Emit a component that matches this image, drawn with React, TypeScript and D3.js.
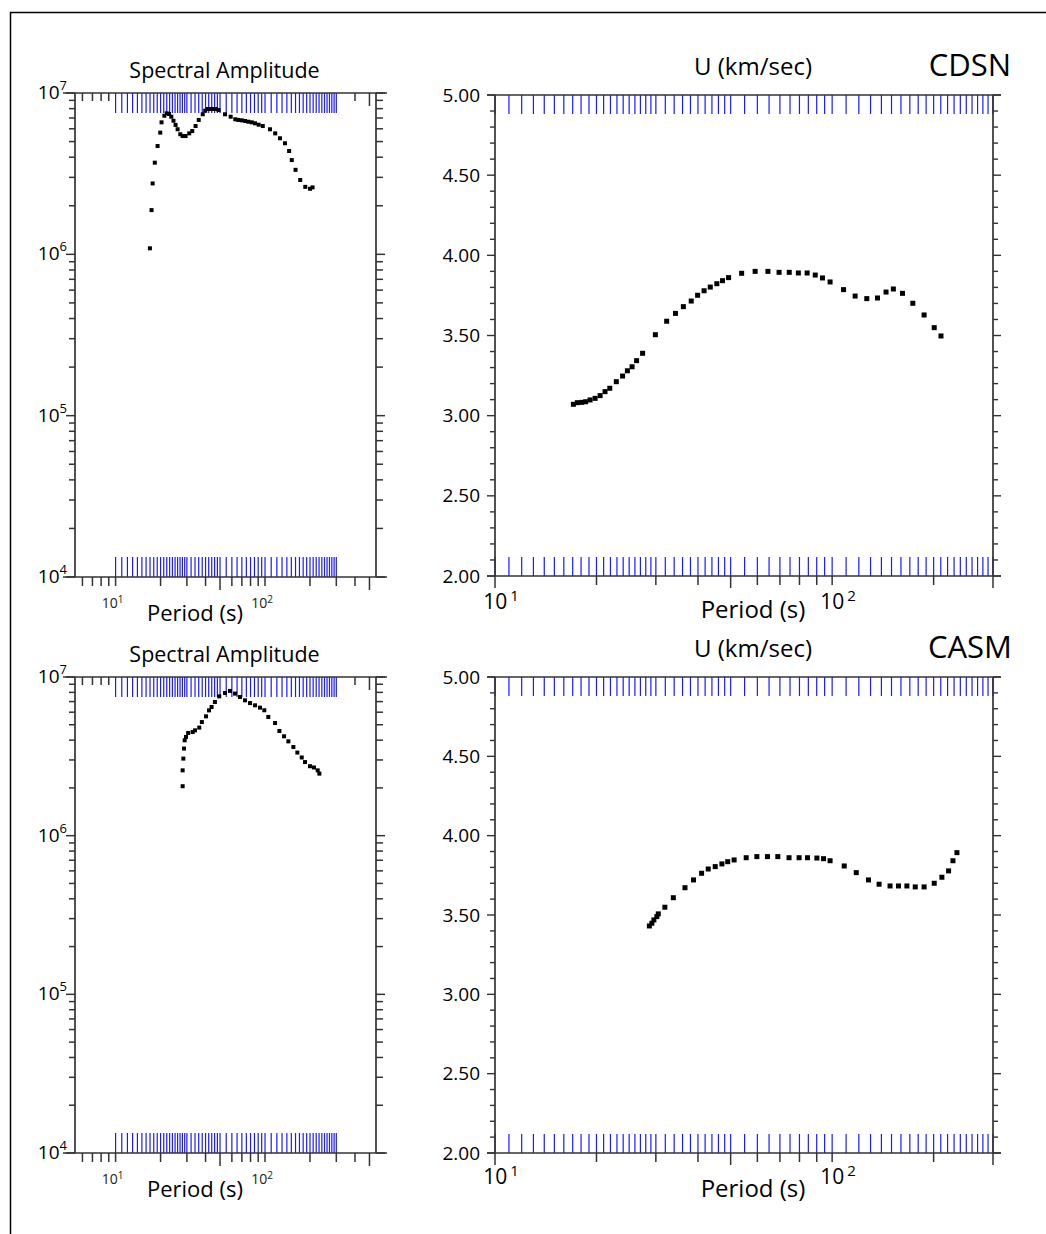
import React from 'react';
import * as d3 from 'd3';

// Measurement periods (s) shown as blue ticks
const measurePeriods = [
  10, 11, 12, 13, 14, 15, 16, 17, 18, 19, 20, 21, 22, 23, 24, 25, 26, 27, 28, 29, 30,
  32, 34, 36, 38, 40, 42, 44, 46, 48, 50,
  55, 60, 65, 70, 75, 80, 85, 90, 95, 100,
  110, 120, 130, 140, 150, 160, 170, 180, 190, 200, 210, 220, 230, 240, 250, 260, 270, 280, 290, 300,
];

// CDSN spectral amplitude
const cdsnAmpPeriods = [16.97, 17.4, 17.7, 18.3, 19.1, 19.9, 20.3, 21.2, 22.0, 22.8, 23.6, 24.4, 25.2, 26.0, 27.1, 28.1, 29.4, 31.1, 32.6, 34.3, 36.0, 38.3, 39.8, 41.5, 43.2, 45.1, 47.0, 48.9, 54.0, 58.9, 63.2, 66.2, 69.8, 73.5, 77.3, 81.5, 85.7, 90.7, 96.6, 108, 117, 126, 136, 145, 151, 160, 172, 186, 200, 208];
const cdsnAmpValues = [1.09e6, 1.88e6, 2.75e6, 3.70e6, 4.69e6, 5.68e6, 6.58e6, 7.23e6, 7.48e6, 7.41e6, 7.13e6, 6.73e6, 6.34e6, 5.96e6, 5.55e6, 5.41e6, 5.41e6, 5.62e6, 5.81e6, 6.24e6, 6.81e6, 7.38e6, 7.77e6, 7.96e6, 7.96e6, 7.96e6, 7.96e6, 7.85e6, 7.38e6, 7.13e6, 6.87e6, 6.81e6, 6.77e6, 6.71e6, 6.64e6, 6.58e6, 6.49e6, 6.36e6, 6.24e6, 5.96e6, 5.62e6, 5.24e6, 4.88e6, 4.37e6, 3.84e6, 3.34e6, 2.89e6, 2.62e6, 2.55e6, 2.60e6];

// CDSN group velocity
const cdsnVelPeriods = [17.08, 17.55, 18.08, 18.58, 19.14, 19.81, 20.5, 21.2, 21.9, 22.9, 23.9, 24.7, 25.5, 26.3, 27.4, 29.9, 32.3, 34.3, 36.2, 38.2, 39.9, 41.7, 43.5, 45.5, 47.3, 49.3, 53.9, 59.1, 64.5, 69.6, 74.6, 79.4, 84.3, 89.1, 93.6, 98.6, 108.1, 117.0, 126.7, 136.3, 144.5, 151.9, 161.7, 173.5, 187.4, 200.8, 210.3];
const cdsnVelValues = [3.071, 3.081, 3.083, 3.087, 3.098, 3.108, 3.125, 3.150, 3.171, 3.212, 3.247, 3.280, 3.305, 3.343, 3.389, 3.505, 3.589, 3.638, 3.680, 3.715, 3.751, 3.779, 3.802, 3.823, 3.842, 3.861, 3.888, 3.900, 3.900, 3.894, 3.894, 3.890, 3.890, 3.877, 3.859, 3.834, 3.786, 3.746, 3.730, 3.734, 3.771, 3.790, 3.763, 3.701, 3.628, 3.549, 3.497];

// CASM spectral amplitude
const casmAmpPeriods = [28.1, 28.1, 28.4, 28.7, 29.0, 29.6, 30.6, 32.8, 34.0, 36.3, 37.8, 40.3, 42.2, 43.9, 46.2, 49.4, 54.0, 58.3, 63.0, 68.0, 73.5, 79.4, 85.8, 92.6, 98.9, 105.2, 116.7, 124.8, 134.1, 143.3, 154.8, 164.6, 176.1, 185.3, 200, 212.6, 225.2, 231];
const casmAmpValues = [2.05e6, 2.58e6, 3.06e6, 3.54e6, 3.99e6, 4.19e6, 4.44e6, 4.50e6, 4.61e6, 4.80e6, 5.20e6, 5.65e6, 6.16e6, 6.47e6, 6.96e6, 7.55e6, 7.93e6, 8.17e6, 7.86e6, 7.48e6, 7.13e6, 6.85e6, 6.63e6, 6.41e6, 6.17e6, 5.60e6, 5.13e6, 4.57e6, 4.23e6, 3.93e6, 3.62e6, 3.34e6, 3.11e6, 2.91e6, 2.74e6, 2.69e6, 2.58e6, 2.46e6];

// CASM group velocity
const casmVelPeriods = [28.7, 29.2, 29.6, 30.2, 30.5, 31.9, 33.8, 36.6, 38.8, 41.0, 42.9, 45.0, 47.1, 49.0, 51.2, 55.6, 59.8, 64.3, 69.0, 74.5, 79.8, 84.5, 90.1, 94.3, 98.6, 108.6, 117.9, 128.2, 137.8, 148.5, 157.3, 166.6, 176.4, 187.4, 200.8, 211.6, 221.5, 228.2, 234.5];
const casmVelValues = [3.431, 3.448, 3.469, 3.490, 3.507, 3.549, 3.609, 3.672, 3.721, 3.763, 3.790, 3.805, 3.822, 3.836, 3.847, 3.861, 3.868, 3.868, 3.868, 3.861, 3.861, 3.861, 3.859, 3.855, 3.842, 3.809, 3.767, 3.721, 3.694, 3.683, 3.683, 3.683, 3.677, 3.677, 3.700, 3.738, 3.778, 3.842, 3.893];

// Axis tick values
const ampXTicks = [6, 7, 8, 9, 10, 20, 30, 40, 50, 60, 70, 80, 90, 100, 200, 300, 400, 500];
const ampXLongTicks = [50, 500];
const ampXLabels = [10, 100];
const ampYDecades = [1e4, 1e5, 1e6, 1e7];
const velXTicks = [10, 20, 30, 40, 50, 60, 70, 80, 90, 100, 200, 300];
const velXLongTicks = [10, 50, 300];
const velXLabels = [10, 100];
const velYLabels = [2.0, 2.5, 3.0, 3.5, 4.0, 4.5, 5.0];

const FONT = "'Open Sans', 'Noto Sans', sans-serif";
const AXIS = '#333';
const BLUE = '#1a1aff';

const ampYMinor: number[] = [];
[1e4, 1e5, 1e6].forEach((d) => {
  for (let k = 1; k <= 9; k++) ampYMinor.push(d * k);
});
ampYMinor.push(1e7);

const velYMinor: number[] = d3.range(0, 31).map((i) => +(2 + i * 0.1).toFixed(2));

function AmpPanel({ top, bottom, periods, values, title }: { top: number; bottom: number; periods: number[]; values: number[]; title: string }) {
  const left = 75;
  const right = 376;
  const x = d3.scaleLog().domain([5.35, 553]).range([left, right]);
  const y = d3.scaleLog().domain([1e4, 1e7]).range([bottom, top]);
  const pts = periods.map((p, i) => [p, values[i]]);
  return (
    <g>
      <text x={(left + right) / 2 - 1} y={top - 15} textAnchor="middle" fontFamily={FONT} fontSize={21.5} fill="#000">{title}</text>
      {measurePeriods.map((p) => (
        <g key={'b' + p}>
          <line x1={x(p)} x2={x(p)} y1={top} y2={top + 20} stroke={BLUE} strokeWidth={1.2} />
          <line x1={x(p)} x2={x(p)} y1={bottom} y2={bottom - 20} stroke={BLUE} strokeWidth={1.2} />
        </g>
      ))}
      <line x1={63} x2={387} y1={top} y2={top} stroke={AXIS} strokeWidth={1.7} />
      <line x1={63} x2={387} y1={bottom} y2={bottom} stroke={AXIS} strokeWidth={1.7} />
      <line x1={left} x2={left} y1={top} y2={bottom} stroke={AXIS} strokeWidth={1.7} />
      <line x1={right} x2={right} y1={top} y2={bottom} stroke={AXIS} strokeWidth={1.7} />
      {ampXTicks.map((t) => (
        <g key={'xt' + t}>
          <line x1={x(t)} x2={x(t)} y1={bottom} y2={bottom + (ampXLongTicks.includes(t) ? 13 : 9)} stroke={AXIS} strokeWidth={1.5} />
          {(t < 10 || t > 300) && (
            <line x1={x(t)} x2={x(t)} y1={top} y2={top + (ampXLongTicks.includes(t) ? 13 : 8)} stroke={AXIS} strokeWidth={1.5} />
          )}
        </g>
      ))}
      {ampXLabels.map((t) => (
        <text key={'xl' + t} x={x(t) - 3} y={bottom + 31} textAnchor="middle" fontFamily={FONT} fontSize={14} fill="#222">
          10
          <tspan dy={-5} fontSize={10}>{String(Math.round(Math.log10(t)))}</tspan>
        </text>
      ))}
      <text x={195} y={bottom + 44} textAnchor="middle" fontFamily={FONT} fontSize={22} fill="#000">Period (s)</text>
      {ampYMinor.map((v, i) => {
        const major = ampYDecades.includes(v);
        return (
          <g key={'yt' + i}>
            <line x1={left} x2={left - (major ? 9 : 6)} y1={y(v)} y2={y(v)} stroke={AXIS} strokeWidth={1.5} />
            <line x1={right} x2={right + (major ? 9 : 7)} y1={y(v)} y2={y(v)} stroke={AXIS} strokeWidth={1.5} />
          </g>
        );
      })}
      {ampYDecades.map((v) => (
        <text key={'yl' + v} x={67} y={y(v) + 6} textAnchor="end" fontFamily={FONT} fontSize={19} fill="#000">
          10
          <tspan dy={-9} fontSize={13}>{String(Math.round(Math.log10(v)))}</tspan>
        </text>
      ))}
      {pts.map(([p, v], i) => (
        <rect key={'p' + i} x={x(p) - 2} y={y(v) - 2} width={4} height={4} fill="#000" />
      ))}
    </g>
  );
}

function VelPanel({ top, bottom, periods, values, title, station, labelY, periodY }: { top: number; bottom: number; periods: number[]; values: number[]; title: string; station: string; labelY: number; periodY: number }) {
  const left = 495;
  const right = 993;
  const x = d3.scaleLog().domain([10, 300]).range([left, right]);
  const y = d3.scaleLinear().domain([2, 5]).range([bottom, top]);
  const pts = periods.map((p, i) => [p, values[i]]);
  return (
    <g>
      <text x={753} y={top - 20} textAnchor="middle" fontFamily={FONT} fontSize={24} fill="#000">{title}</text>
      <text x={970} y={top - 19} textAnchor="middle" fontFamily={FONT} fontSize={31} fill="#000">{station}</text>
      {measurePeriods.map((p) => (
        <g key={'b' + p}>
          <line x1={x(p)} x2={x(p)} y1={top} y2={top + 19} stroke={BLUE} strokeWidth={1.2} />
          <line x1={x(p)} x2={x(p)} y1={bottom} y2={bottom - 19} stroke={BLUE} strokeWidth={1.2} />
        </g>
      ))}
      <line x1={487} x2={1001} y1={top} y2={top} stroke={AXIS} strokeWidth={1.7} />
      <line x1={487} x2={1001} y1={bottom} y2={bottom} stroke={AXIS} strokeWidth={1.7} />
      <line x1={left} x2={left} y1={top} y2={bottom} stroke={AXIS} strokeWidth={1.7} />
      <line x1={right} x2={right} y1={top} y2={bottom} stroke={AXIS} strokeWidth={1.7} />
      {velXTicks.map((t) => (
        <line key={'xt' + t} x1={x(t)} x2={x(t)} y1={bottom} y2={bottom + (velXLongTicks.includes(t) ? 12 : 9)} stroke={AXIS} strokeWidth={1.5} />
      ))}
      {velXLabels.map((t) => (
        <text key={'xl' + t} x={x(t) + 6} y={labelY} textAnchor="middle" fontFamily={FONT} fontSize={21} fill="#000">
          10
          <tspan dx={3} dy={-8} fontSize={15}>{String(Math.round(Math.log10(t)))}</tspan>
        </text>
      ))}
      <text x={753} y={periodY} textAnchor="middle" fontFamily={FONT} fontSize={24} fill="#000">Period (s)</text>
      {velYMinor.map((v, i) => {
        const major = i % 5 === 0;
        return (
          <g key={'yt' + i}>
            <line x1={left} x2={left - (major ? 8 : 5)} y1={y(v)} y2={y(v)} stroke={AXIS} strokeWidth={1.4} />
            <line x1={right} x2={right + (major ? 8 : 5)} y1={y(v)} y2={y(v)} stroke={AXIS} strokeWidth={1.4} />
          </g>
        );
      })}
      {velYLabels.map((v) => (
        <text key={'yl' + v} x={480} y={y(v) + 6.5} textAnchor="end" fontFamily={FONT} fontSize={19} fill="#000">{d3.format('.2f')(v)}</text>
      ))}
      {pts.map(([p, v], i) => (
        <rect key={'p' + i} x={x(p) - 2.5} y={y(v) - 2.5} width={5} height={5} fill="#000" />
      ))}
    </g>
  );
}

export default function App() {
  return (
    <svg width={1046} height={1234} style={{ position: 'absolute', left: 0, top: 0, background: '#fff' }}>
      <rect x={0} y={0} width={1046} height={1234} fill="#fff" />
      <rect x={10.5} y={12.5} width={1100} height={1300} fill="none" stroke="#000" strokeWidth={1.5} />
      <AmpPanel top={93} bottom={577} periods={cdsnAmpPeriods} values={cdsnAmpValues} title="Spectral Amplitude" />
      <AmpPanel top={677} bottom={1153} periods={casmAmpPeriods} values={casmAmpValues} title="Spectral Amplitude" />
      <VelPanel top={95} bottom={576} periods={cdsnVelPeriods} values={cdsnVelValues} title="U (km/sec)" station="CDSN" labelY={609} periodY={618} />
      <VelPanel top={677} bottom={1153} periods={casmVelPeriods} values={casmVelValues} title="U (km/sec)" station="CASM" labelY={1184} periodY={1197} />
    </svg>
  );
}
